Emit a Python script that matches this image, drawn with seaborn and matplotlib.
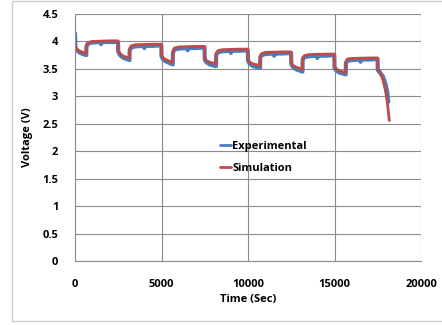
import matplotlib
matplotlib.use("Agg")
import matplotlib.pyplot as plt
import seaborn as sns
import pandas as pd
from matplotlib.patches import Rectangle

# Simulation (red)
sim_time = [0, 100, 300, 650, 660, 750, 1000, 2000, 2490,
            2500, 2600, 2800, 3150, 3160, 3250, 3500, 4500, 4990,
            5000, 5100, 5300, 5650, 5660, 5750, 6000, 7000, 7490,
            7500, 7600, 7800, 8150, 8160, 8250, 8500, 9500, 9990,
            10000, 10100, 10300, 10700, 10710, 10800, 11000, 12000, 12490,
            12500, 12600, 12800, 13150, 13160, 13250, 13500, 14500, 14990,
            15000, 15100, 15300, 15650, 15660, 15750, 16000, 17000, 17490,
            17500, 17650, 17800, 17950, 18050, 18170]
sim_volt = [3.92, 3.86, 3.82, 3.78, 3.93, 3.98, 4.00, 4.01, 4.01,
            3.84, 3.78, 3.73, 3.70, 3.87, 3.92, 3.94, 3.95, 3.95,
            3.76, 3.70, 3.66, 3.62, 3.83, 3.88, 3.90, 3.91, 3.91,
            3.70, 3.65, 3.62, 3.59, 3.78, 3.83, 3.85, 3.86, 3.86,
            3.68, 3.62, 3.59, 3.56, 3.74, 3.78, 3.80, 3.81, 3.81,
            3.62, 3.56, 3.53, 3.49, 3.70, 3.74, 3.76, 3.77, 3.77,
            3.55, 3.50, 3.46, 3.43, 3.63, 3.68, 3.69, 3.70, 3.70,
            3.50, 3.44, 3.30, 3.10, 2.90, 2.56]

# Experimental (blue)
exp_time = [0, 20, 100, 300, 650, 660, 750, 1000, 1500, 1510, 1520, 2000, 2490,
            2500, 2600, 2800, 3150, 3160, 3250, 3500, 4000, 4010, 4020, 4500, 4990,
            5000, 5100, 5300, 5650, 5660, 5750, 6000, 6500, 6510, 6520, 7000, 7490,
            7500, 7600, 7800, 8150, 8160, 8250, 8500, 9000, 9010, 9020, 9500, 9990,
            10000, 10100, 10300, 10700, 10710, 10800, 11000, 11500, 11510, 11520, 12000, 12490,
            12500, 12600, 12800, 13150, 13160, 13250, 13500, 14000, 14010, 14020, 14500, 14990,
            15000, 15100, 15300, 15650, 15660, 15750, 16000, 16500, 16510, 16520, 17000, 17490,
            17500, 17650, 17800, 17950, 18050, 18110]
exp_volt = [4.15, 3.90, 3.84, 3.79, 3.75, 3.90, 3.96, 3.98, 3.99, 3.95, 3.99, 3.99, 3.99,
            3.81, 3.75, 3.70, 3.66, 3.84, 3.89, 3.91, 3.92, 3.88, 3.92, 3.92, 3.93,
            3.73, 3.67, 3.63, 3.58, 3.79, 3.85, 3.87, 3.88, 3.84, 3.88, 3.88, 3.89,
            3.67, 3.62, 3.58, 3.55, 3.75, 3.80, 3.82, 3.83, 3.79, 3.83, 3.83, 3.84,
            3.65, 3.59, 3.55, 3.52, 3.71, 3.75, 3.77, 3.78, 3.74, 3.78, 3.78, 3.79,
            3.59, 3.53, 3.49, 3.45, 3.67, 3.71, 3.73, 3.74, 3.70, 3.74, 3.74, 3.75,
            3.52, 3.47, 3.43, 3.40, 3.60, 3.65, 3.66, 3.67, 3.63, 3.67, 3.67, 3.68,
            3.48, 3.42, 3.36, 3.22, 3.08, 2.90]

x_ticks = [0, 5000, 10000, 15000, 20000]
y_ticks = [0, 0.5, 1, 1.5, 2, 2.5, 3, 3.5, 4, 4.5]
y_labels = ["0", "0.5", "1", "1.5", "2", "2.5", "3", "3.5", "4", "4.5"]

sns.set_theme(style="white")
plt.rcParams['font.family'] = ['Open Sans', 'DejaVu Sans']
plt.rcParams['font.weight'] = 'bold'
plt.rcParams['text.color'] = 'black'
plt.rcParams['axes.labelcolor'] = 'black'

fig = plt.figure(figsize=(4.42, 3.25), dpi=100)
ax = fig.add_axes([75/442, 1-261/325, (421-75)/442, (261-14)/325])

exp_df = pd.DataFrame({"Time": exp_time, "Voltage": exp_volt})
sim_df = pd.DataFrame({"Time": sim_time, "Voltage": sim_volt})

sns.lineplot(data=exp_df, x="Time", y="Voltage", ax=ax, color="#4A7EBB",
             linewidth=3.0, sort=False, estimator=None, label="Experimental")
sns.lineplot(data=sim_df, x="Time", y="Voltage", ax=ax, color="#BE4B48",
             linewidth=2.0, sort=False, estimator=None, label="Simulation")

ax.set_xlim(0, 20000)
ax.set_ylim(0, 4.5)
ax.set_xticks(x_ticks)
ax.set_xticklabels([str(v) for v in x_ticks], fontsize=8, fontweight='bold')
ax.set_yticks(y_ticks)
ax.set_yticklabels(y_labels, fontsize=8, fontweight='bold')
ax.grid(True, color="#8c8c8c", linewidth=0.8)
ax.set_axisbelow(True)
for s in ["top", "right"]:
    ax.spines[s].set_visible(False)
for s in ["left", "bottom"]:
    ax.spines[s].set_color("#8c8c8c")
    ax.spines[s].set_linewidth(0.8)
ax.tick_params(axis='both', which='both', length=4, color="#8c8c8c", width=0.8,
               direction='out', pad=8, labelcolor='black')
ax.tick_params(axis='x', pad=9)

ax.set_xlabel("Time (Sec)", fontsize=8, fontweight='bold', labelpad=3, color='black')
ax.set_ylabel("Voltage (V)", fontsize=8, fontweight='bold', labelpad=7, color='black')

leg = ax.legend(loc='center left', bbox_to_anchor=(0.39, 0.42), frameon=False,
                handlelength=1.0, handletextpad=0.1, labelspacing=1.0,
                prop={'size': 8, 'weight': 'bold'})
for line in leg.get_lines():
    line.set_linewidth(2.0)
for t in leg.get_texts():
    t.set_color('black')

fig.patches.append(Rectangle((12/442, 1-321/325), 1.0, 320/325,
                             transform=fig.transFigure, fill=False,
                             edgecolor="#d0d0d0", linewidth=1.0))

fig.savefig("out.png", dpi=100)
